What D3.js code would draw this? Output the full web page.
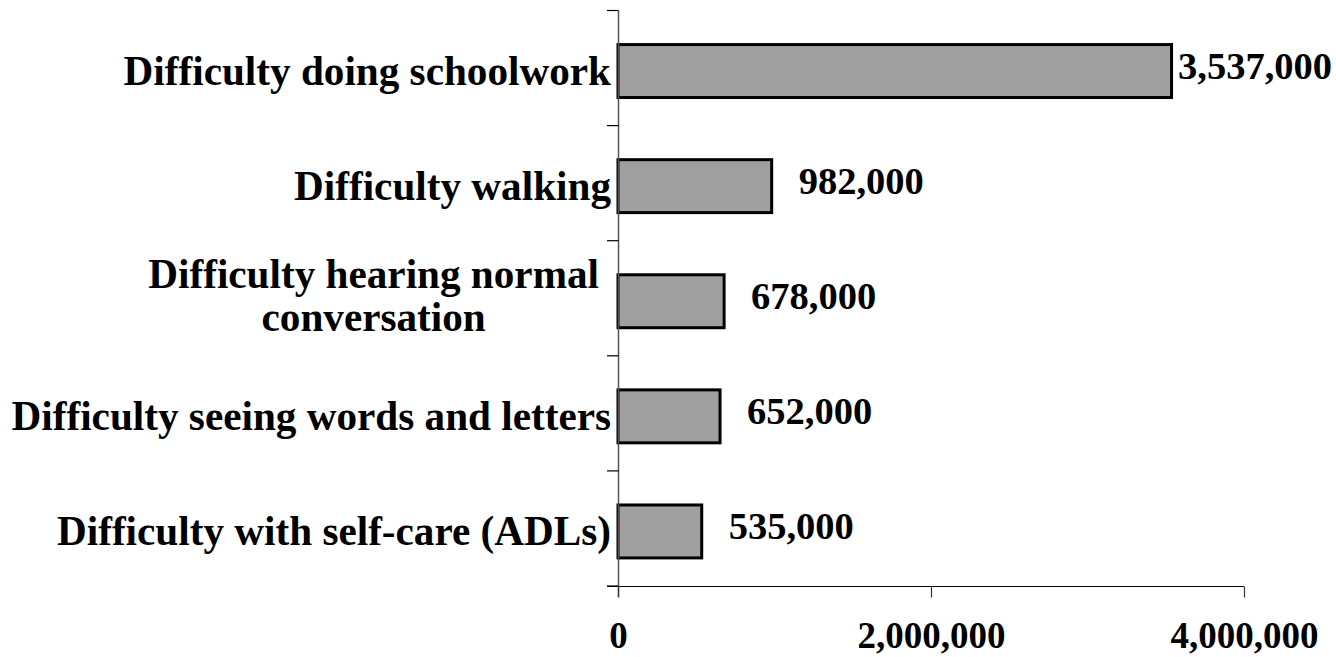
<!DOCTYPE html>
<html><head><meta charset="utf-8">
<script src="https://cdn.jsdelivr.net/npm/d3@7"></script>
<style>
body{margin:0;background:#fff;}
svg text{font-family:"Liberation Serif","Times New Roman",serif;font-weight:bold;fill:#000;}
</style></head>
<body><svg id="c" width="1336" height="657"></svg>
<script>
const categories = [
  ["Difficulty doing schoolwork"],
  ["Difficulty walking"],
  ["Difficulty hearing normal", "conversation"],
  ["Difficulty seeing words and letters"],
  ["Difficulty with self-care (ADLs)"]
];
const values = [3537000, 982000, 678000, 652000, 535000];
const xTicks = [0, 2000000, 4000000];

const svg = d3.select("#c");
const W = 1336;
const keys = categories.map(c => c.join(" "));
const x = d3.scaleLinear().domain([0, 4000000]).range([618, 1244]);
const y = d3.scaleBand().domain(keys).range([10.5, 586]).paddingInner(0.54).paddingOuter(0.27);
const shift = 3;
const fmt = d3.format(",");

// bars
svg.selectAll("rect.bar").data(values).join("rect")
  .attr("class","bar")
  .attr("x", x(0))
  .attr("y", (d,i) => y(keys[i]) + shift)
  .attr("width", d => x(d) - x(0))
  .attr("height", y.bandwidth())
  .attr("fill", "#a0a0a0")
  .attr("stroke", "#000")
  .attr("stroke-width", 3);

// y axis line + ticks at band boundaries
const step = y.step();
const y0 = 10.5;
svg.append("line").attr("x1", 618.5).attr("x2", 618.5).attr("y1", y0).attr("y2", 597)
  .attr("stroke", "#555").attr("stroke-width", 1.5);
svg.selectAll("line.yt").data(d3.range(keys.length + 1)).join("line")
  .attr("class","yt")
  .attr("x1", 607).attr("x2", 618.5)
  .attr("y1", i => y0 + i * step).attr("y2", i => y0 + i * step)
  .attr("stroke", "#000").attr("stroke-width", 1.2);

// x axis
const xAxis = d3.axisBottom(x).tickValues(xTicks).tickSize(11).tickFormat(fmt).tickSizeOuter(0);
const gx = svg.append("g").attr("transform", "translate(0,586.5)").call(xAxis);
gx.select(".domain").attr("d", `M607,0H${x(4000000)}`).attr("stroke", "#000").attr("stroke-width", 1.2);
gx.selectAll(".tick line").attr("stroke", "#333").attr("stroke-width", 1.2);
gx.selectAll(".tick text").attr("font-size", 37).attr("y", 61).attr("dy", 0)
  .attr("font-family", "'Liberation Serif', serif").attr("font-weight", "bold");

// category labels
const labelRight = 611;
categories.forEach((lines, i) => {
  const cy = y(keys[i]) + shift + y.bandwidth() / 2;
  const lh = 43;
  const g = svg.append("g");
  const t = g.append("text").attr("font-size", 41.2);
  const n = lines.length;
  lines.forEach((ln, j) => {
    t.append("tspan").text(ln)
      .attr("y", cy + 14 + (j - (n - 1) / 2) * lh - (n > 1 ? 6 : 0));
  });
  const tsp = t.selectAll("tspan").nodes();
  const widths = tsp.map(n => n.getComputedTextLength());
  const maxW = d3.max(widths);
  const center = (n > 1 ? labelRight - 12 : labelRight) - maxW / 2;
  t.attr("text-anchor", "middle");
  t.selectAll("tspan").attr("x", center);
});

// value labels
svg.selectAll("text.val").data(values).join("text")
  .attr("class","val")
  .attr("font-size", 38.5)
  .text(d => fmt(d))
  .attr("y", (d,i) => y(keys[i]) + shift + y.bandwidth() / 2 + 8)
  .each(function(d){
    const w = this.getComputedTextLength();
    const xs = Math.min(x(d) + 27, W - 4 - w);
    d3.select(this).attr("x", xs);
  });
</script></body></html>
